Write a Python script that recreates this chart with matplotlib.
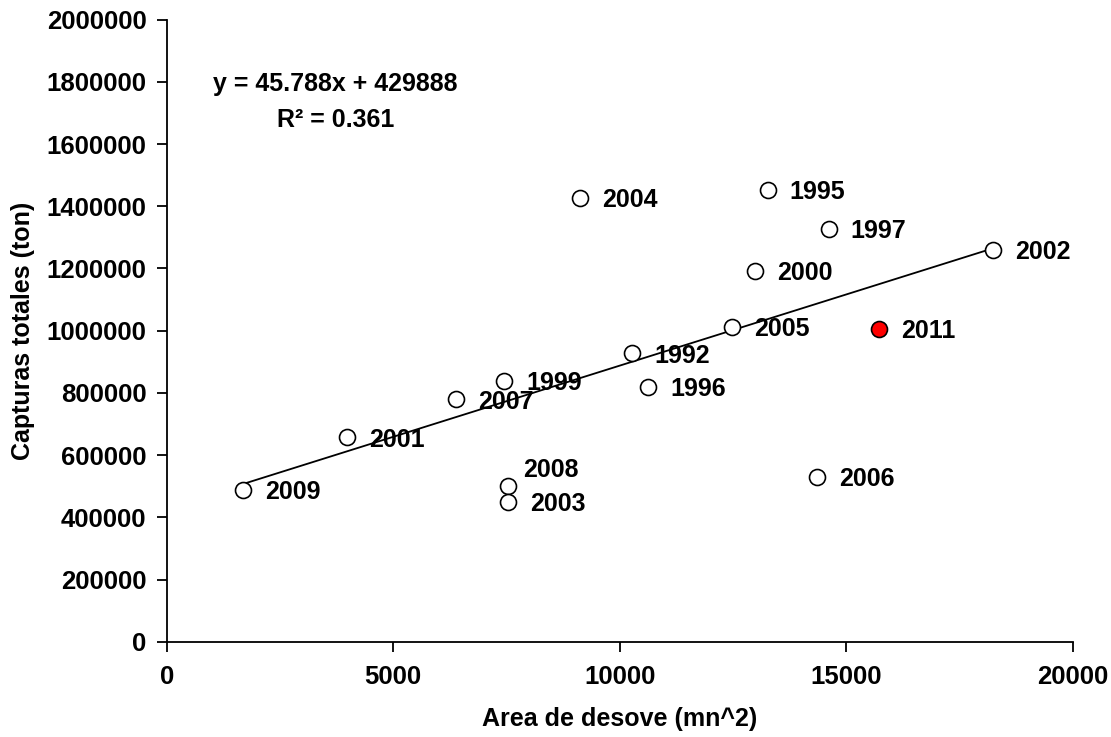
import numpy as np
import matplotlib.pyplot as plt

# datos
years = ["2009", "2001", "2007", "1999", "2008", "2003", "2004", "1992", "1996",
         "2005", "2000", "1995", "1997", "2006", "2002", "2011"]
area = [1677, 3972, 6383, 7450, 7538, 7538, 9120, 10274, 10620,
        12467, 12974, 13261, 14607, 14342, 18226, 15724]
capturas = [487800, 657200, 779400, 839200, 500600, 450200, 1426700, 927300, 820000,
            1012900, 1192900, 1452400, 1327000, 529600, 1259500, 1005500]
highlight = "2011"

slope = 45.788
intercept = 429888
r2 = 0.361

plt.rcParams['font.family'] = ['Liberation Sans', 'DejaVu Sans']
plt.rcParams['font.weight'] = 'bold'
FS = 18

fig = plt.figure(figsize=(11.11, 7.37), dpi=100)
ax = fig.add_axes([0.15, 0.1293, 0.8158, 0.844])

# linea de tendencia entre los extremos de los datos observados
x_obs = [a for a, y in zip(area, years) if y != highlight]
xl = np.array([min(x_obs), max(x_obs)])
ax.plot(xl, slope * xl + intercept, color='black', linewidth=1.3, zorder=2)

for yr, a, c in zip(years, area, capturas):
    face = 'red' if yr == highlight else 'white'
    ax.plot(a, c, 'o', markersize=11.5, markerfacecolor=face,
            markeredgecolor='black', markeredgewidth=1.2, zorder=3)
    if yr == "2008":
        off = (11, 11.5)
    else:
        off = (16, -1.8)
    ax.annotate(yr, (a, c), xytext=off, textcoords='offset points',
                ha='left', va='center', fontsize=FS, fontweight='bold', zorder=4)

ax.text(0.1857, 0.8966, f"y = {slope}x + {intercept}", transform=ax.transAxes,
        ha='center', va='center', fontsize=FS, fontweight='bold')
ax.text(0.1868, 0.8387, f"R² = {r2}", transform=ax.transAxes,
        ha='center', va='center', fontsize=FS, fontweight='bold')

ax.set_xlim(0, 20000)
ax.set_ylim(0, 2000000)
ax.set_xticks(np.arange(0, 20001, 5000))
ax.set_yticks(np.arange(0, 2000001, 200000))
ax.ticklabel_format(style='plain')

for side in ['top', 'right']:
    ax.spines[side].set_visible(False)
for side in ['left', 'bottom']:
    ax.spines[side].set_linewidth(1.3)
ax.tick_params(direction='out', length=7.5, width=1.3, labelsize=18.5)
ax.tick_params(axis='x', pad=9)
ax.tick_params(axis='y', pad=7)

ax.set_xlabel("Area de desove (mn^2)", fontsize=FS, fontweight='bold', labelpad=13)
ax.set_ylabel("Capturas totales (ton)", fontsize=FS, fontweight='bold', labelpad=8)

fig.savefig("out.png", dpi=100)
